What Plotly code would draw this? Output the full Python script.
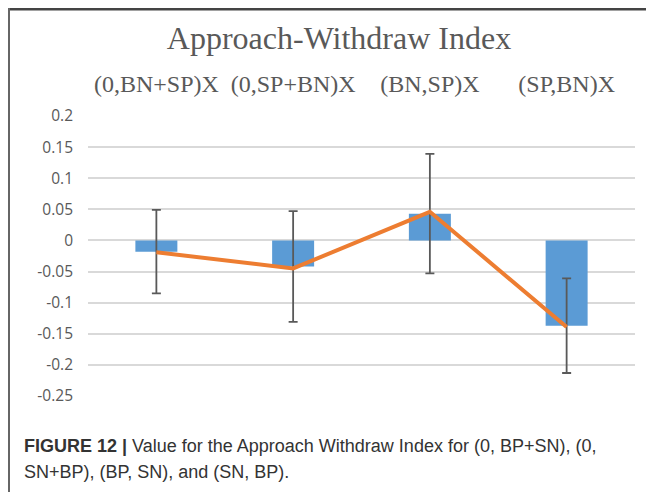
import plotly.graph_objects as go

# ---- data ----
categories = ["(0,BN+SP)X", "(0,SP+BN)X", "(BN,SP)X", "(SP,BN)X"]
bar_values = [-0.018, -0.042, 0.043, -0.137]
error_values = [0.067, 0.089, 0.096, 0.076]
line_values = [-0.019, -0.045, 0.046, -0.139]
y_tickvals = [0.2, 0.15, 0.1, 0.05, 0, -0.05, -0.1, -0.15, -0.2, -0.25]
y_ticktext = ["0.2", "0.15", "0.1", "0.05", "0", "-0.05", "-0.1", "-0.15", "-0.2", "-0.25"]
title_text = "Approach-Withdraw Index"
caption_line1 = "<b>FIGURE 12 |</b> Value for the Approach Withdraw Index for (0, BP+SN), (0,"
caption_line2 = "SN+BP), (BP, SN), and (SN, BP)."

GRAY = "#595959"

# the page body has an 8px margin; figure is sized to fit the window
OFF = 8
W, H = 654 - OFF, 492 - OFF
L, R, T, B = 88 - OFF, 19, 116 - OFF, 96
pw, ph = W - L - R, H - T - B

def px_x(x):  # page pixel -> paper x
    return (x - OFF - L) / pw

def px_y(y):  # page pixel -> paper y
    return (H - B - (y - OFF)) / ph

fig = go.Figure()
fig.add_trace(go.Bar(
    x=categories, y=bar_values,
    marker=dict(color="#5b9bd5", line=dict(width=0)),
    error_y=dict(type="data", array=error_values, visible=True,
                 color=GRAY, thickness=1.8, width=4.5),
    showlegend=False,
))
fig.add_trace(go.Scatter(
    x=categories, y=line_values, mode="lines",
    line=dict(color="#ed7d31", width=4),
    showlegend=False,
))

fig.update_layout(
    width=W, height=H,
    margin=dict(l=L, r=R, t=T, b=B, pad=0, autoexpand=False),
    paper_bgcolor="white", plot_bgcolor="white",
    bargap=0.693,
    title=dict(text=title_text, x=(339 - OFF) / W, xanchor="center", xref="container",
               y=1 - (38 - OFF) / H, yanchor="middle", yref="container",
               font=dict(family="Liberation Serif", size=32, color=GRAY)),
    xaxis=dict(side="top", showgrid=False, showline=False, zeroline=False,
               ticks="", ticklabelstandoff=18, automargin=False,
               tickfont=dict(family="Liberation Serif", size=24, color=GRAY)),
    yaxis=dict(range=[-0.25, 0.2], tickvals=y_tickvals, ticktext=y_ticktext,
               showgrid=True, gridcolor="#d9d9d9", gridwidth=1.6,
               zeroline=True, zerolinecolor="#d9d9d9", zerolinewidth=1.6,
               showline=False, ticks="", ticklabelstandoff=14, automargin=False,
               tickfont=dict(family="Open Sans", size=15.5, color=GRAY)),
    annotations=[
        dict(text=caption_line1, xref="paper", yref="paper",
             x=px_x(22), y=px_y(446), xanchor="left", yanchor="middle",
             showarrow=False, align="left",
             font=dict(family="Liberation Sans", size=18, color="#333333")),
        dict(text=caption_line2, xref="paper", yref="paper",
             x=px_x(22), y=px_y(472), xanchor="left", yanchor="middle",
             showarrow=False, align="left",
             font=dict(family="Liberation Sans", size=18, color="#333333")),
    ],
    shapes=[
        dict(type="line", xref="paper", yref="paper",
             x0=px_x(8), x1=px_x(654), y0=px_y(9.2), y1=px_y(9.2),
             line=dict(color="#444444", width=2.5)),
        dict(type="line", xref="paper", yref="paper",
             x0=px_x(9), x1=px_x(9), y0=px_y(8), y1=px_y(492),
             line=dict(color="#666666", width=2)),
    ],
)

fig.write_html("out.html")
